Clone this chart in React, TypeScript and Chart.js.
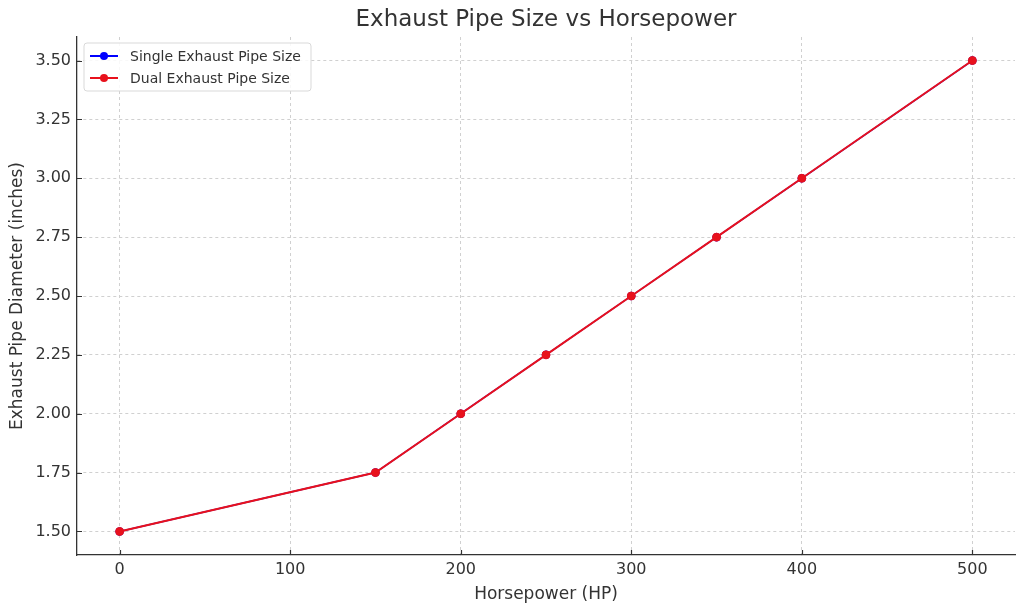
import { useEffect, useRef } from 'react'
import { Chart, registerables } from 'chart.js'

Chart.register(...registerables)

const horsepower = [0, 150, 200, 250, 300, 350, 400, 500]
const singlePipe = [1.5, 1.75, 2.0, 2.25, 2.5, 2.75, 3.0, 3.5]
const dualPipe = [1.5, 1.75, 2.0, 2.25, 2.5, 2.75, 3.0, 3.5]
const xTicks = [0, 100, 200, 300, 400, 500]
const yTicks = [1.5, 1.75, 2.0, 2.25, 2.5, 2.75, 3.0, 3.25, 3.5]

const FONT = '"DejaVu Sans", sans-serif'
const TEXT = '#333333'
const RED = '#e8111c'

// title, inward tick marks and legend box, matplotlib style
const decorPlugin = {
  id: 'decor',
  afterDraw(chart: Chart) {
    const ctx = chart.ctx
    const area = chart.chartArea
    const xs: any = chart.scales.x
    const ys: any = chart.scales.y
    ctx.save()

    ctx.strokeStyle = TEXT
    ctx.lineWidth = 1.2
    ctx.beginPath()
    for (const v of xTicks) {
      const px = Math.round(xs.getPixelForValue(v)) + 0.5
      ctx.moveTo(px, area.bottom)
      ctx.lineTo(px, area.bottom - 5)
    }
    for (const v of yTicks) {
      const py = Math.round(ys.getPixelForValue(v)) + 0.5
      ctx.moveTo(area.left, py)
      ctx.lineTo(area.left + 5, py)
    }
    ctx.stroke()

    ctx.fillStyle = TEXT
    ctx.font = `23px ${FONT}`
    ctx.textAlign = 'center'
    ctx.textBaseline = 'middle'
    ctx.fillText('Exhaust Pipe Size vs Horsepower', (area.left + area.right) / 2, 20)

    const items = [
      { label: 'Single Exhaust Pipe Size', color: '#0000ff' },
      { label: 'Dual Exhaust Pipe Size', color: RED },
    ]
    const bx = area.left + 7, by = area.top + 6, bw = 227, bh = 48
    ctx.beginPath()
    ctx.roundRect(bx, by, bw, bh, 3)
    ctx.fillStyle = 'rgba(255,255,255,0.85)'
    ctx.fill()
    ctx.strokeStyle = '#d9d9d9'
    ctx.lineWidth = 1
    ctx.stroke()
    ctx.font = `14px ${FONT}`
    ctx.textAlign = 'left'
    items.forEach((it, i) => {
      const y = by + 13 + i * 22
      ctx.strokeStyle = it.color
      ctx.lineWidth = 2
      ctx.beginPath()
      ctx.moveTo(bx + 6, y)
      ctx.lineTo(bx + 34, y)
      ctx.stroke()
      ctx.fillStyle = it.color
      ctx.beginPath()
      ctx.arc(bx + 20, y, 4, 0, Math.PI * 2)
      ctx.fill()
      ctx.fillStyle = TEXT
      ctx.fillText(it.label, bx + 46, y + 1)
    })
    ctx.restore()
  },
}

export default function App() {
  const ref = useRef<HTMLCanvasElement>(null)

  useEffect(() => {
    document.body.style.margin = '0'
    if (!ref.current) return
    const chart = new Chart(ref.current, {
      type: 'line',
      data: {
        datasets: [
          {
            label: 'Single Exhaust Pipe Size',
            data: horsepower.map((x, i) => ({ x, y: singlePipe[i] })),
            borderColor: '#0000ff',
            backgroundColor: '#0000ff',
            borderWidth: 1.5,
            pointRadius: 3.5,
            order: 1,
          },
          {
            label: 'Dual Exhaust Pipe Size',
            data: horsepower.map((x, i) => ({ x, y: dualPipe[i] })),
            borderColor: RED,
            backgroundColor: RED,
            borderWidth: 2,
            pointRadius: 4,
            pointBorderWidth: 1,
            order: 0,
          },
        ],
      },
      options: {
        animation: false,
        responsive: false,
        layout: { padding: { top: 37, right: 9, left: 7, bottom: 6 } },
        plugins: { legend: { display: false }, tooltip: { enabled: false } },
        scales: {
          x: {
            type: 'linear',
            min: -25,
            max: 525,
            afterBuildTicks: (s: any) => { s.ticks = xTicks.map((v) => ({ value: v })) },
            afterFit: (s: any) => { s.height = 50 },
            ticks: { color: TEXT, font: { family: FONT, size: 16 }, padding: 5 },
            grid: { color: '#d0d0d0', tickLength: 0 },
            border: { display: true, color: TEXT, width: 1.3, dash: [3, 3] },
            title: { display: true, text: 'Horsepower (HP)', color: TEXT, font: { family: FONT, size: 17 }, padding: { top: 2, bottom: 0 } },
          },
          y: {
            type: 'linear',
            min: 1.4,
            max: 3.6,
            afterBuildTicks: (s: any) => { s.ticks = yTicks.map((v) => ({ value: v })) },
            afterFit: (s: any) => { s.width = 70 },
            ticks: { color: TEXT, font: { family: FONT, size: 16 }, padding: 6, callback: (v: any) => Number(v).toFixed(2) },
            grid: { color: '#d0d0d0', tickLength: 0 },
            border: { display: true, color: TEXT, width: 1.3, dash: [3, 3] },
            title: { display: true, text: 'Exhaust Pipe Diameter (inches)', color: TEXT, font: { family: FONT, size: 17 }, padding: { top: 0, bottom: 2 } },
          },
        },
      },
      plugins: [decorPlugin],
    })
    return () => chart.destroy()
  }, [])

  return <canvas ref={ref} width={1024} height={611} style={{ display: 'block' }} />
}
